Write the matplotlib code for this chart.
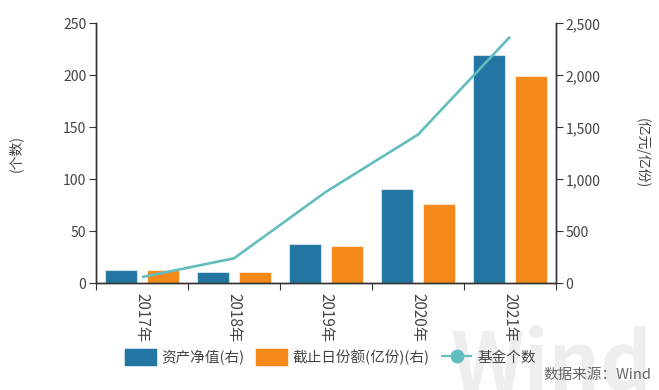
import matplotlib.pyplot as plt
import numpy as np
from matplotlib.patches import Patch
from matplotlib.lines import Line2D
from matplotlib.ticker import FuncFormatter

plt.rcParams['font.family'] = ['Noto Sans CJK SC', 'DejaVu Sans']

# data
years = ['2017年', '2018年', '2019年', '2020年', '2021年']
net_assets = [128, 106, 378, 907, 2195]      # 资产净值(右), 亿元
shares = [128, 106, 359, 760, 1990]          # 截止日份额(亿份)(右)
fund_count = [6, 24, 88, 143, 237]           # 基金个数, left axis

blue = '#2375a3'
orange = '#f5891a'
teal = '#62bebe'
axis_col = '#333333'
text_col = '#444444'

fig = plt.figure(figsize=(6.59, 3.90), dpi=100)
ax = fig.add_axes([96 / 659, 1 - 283.3 / 390, 460 / 659, 260 / 390])
ax2 = ax.twinx()

# watermark behind everything
fig.text(450 / 659, 0.0, 'Wind', fontsize=58, fontweight='bold',
         color='#eeeeee', ha='left', va='baseline', zorder=0)

x = np.arange(len(years))
ax2.bar(x - 0.225, net_assets, width=0.35, color=blue,
        edgecolor=(1, 1, 1, 0.55), linewidth=0.8)
ax2.bar(x + 0.225, shares, width=0.35, color=orange,
        edgecolor=(1, 1, 1, 0.55), linewidth=0.8)
ax.plot(x, fund_count, color=teal, linewidth=1.9, solid_capstyle='butt')

# line above the bars
ax.set_zorder(ax2.get_zorder() + 1)
ax.patch.set_visible(False)

ax.set_xlim(-0.5, 4.5)
ax.set_ylim(0, 250)
ax2.set_ylim(0, 2500)
ax.set_yticks([0, 50, 100, 150, 200, 250])
ax2.set_yticks([0, 500, 1000, 1500, 2000, 2500])
ax2.yaxis.set_major_formatter(FuncFormatter(lambda v, p: f'{int(v):,}'))

# boundary ticks without labels, labels at centres
ax.set_xticks(np.arange(-0.5, 5, 1))
ax.set_xticklabels([])
ax.set_xticks(x, minor=True)
ax.set_xticklabels(years, minor=True, rotation=270, fontsize=11, color=text_col)
ax.tick_params(axis='x', which='minor', length=0, pad=7)
ax.tick_params(axis='x', which='major', length=5, color=axis_col)

for a in (ax, ax2):
    a.spines['top'].set_visible(False)
    for s in ('left', 'right', 'bottom'):
        a.spines[s].set_color(axis_col)
        a.spines[s].set_linewidth(1)
    a.tick_params(axis='y', length=5, color=axis_col, labelsize=10,
                  labelcolor=text_col, pad=2)

ax.set_ylabel('(个数)', fontsize=10, color=text_col, va='center')
ax.yaxis.set_label_coords(-0.176, 0.5)
ax2.set_ylabel('(亿元/亿份)', fontsize=10, color=text_col, rotation=270, va='center')
ax2.yaxis.set_label_coords(1.187, 0.5)

handles = [
    Patch(facecolor=blue, edgecolor=blue, linewidth=2.5, joinstyle='round'),
    Patch(facecolor=orange, edgecolor=orange, linewidth=2.5, joinstyle='round'),
    Line2D([], [], color=teal, linewidth=1.5, marker='o', markersize=9,
           markerfacecolor=teal, markeredgecolor=teal),
]
labels = ['资产净值(右)', '截止日份额(亿份)(右)', '基金个数']
fig.legend(handles, labels, loc='center', bbox_to_anchor=(331 / 659, 1 - 357 / 390),
           ncol=3, frameon=False, fontsize=10.5, handlelength=2.0, handleheight=1.1,
           handletextpad=0.45, columnspacing=0.85, labelcolor=text_col)

fig.text(651 / 659, 1 - 375 / 390, '数据来源：Wind', fontsize=10.5, color='#666666',
         ha='right', va='center')

fig.savefig('out.png', dpi=100)
